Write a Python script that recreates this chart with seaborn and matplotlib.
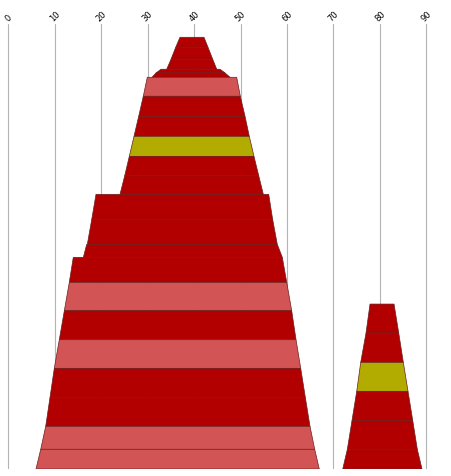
import matplotlib.pyplot as plt
import seaborn as sns

# big column, bands listed top to bottom
big_heights = [2.15, 2.58, 2.15, 0.80, 0.93, 4.09, 4.31, 4.31, 4.31, 4.18, 4.00,
               5.47, 5.30, 2.80, 5.38, 6.11, 6.24, 6.16, 6.24, 6.24, 4.95, 4.24]
big_left_top = [36.96, 36.04, 35.03, 32.87, 31.80, 29.92, 29.06, 28.07, 27.06, 26.05, 25.06,
                18.88, 17.95, 16.88, 13.99, 13.13, 12.06, 10.98, 9.90, 8.98, 8.05, 6.98]
big_left_bot = [36.04, 35.03, 34.10, 31.80, 30.94, 29.06, 28.07, 27.06, 26.05, 25.06, 24.05,
                17.95, 17.01, 16.15, 13.13, 12.06, 10.98, 9.90, 8.98, 8.05, 6.98, 5.96]
big_right_top = [42.13, 42.99, 44.00, 45.58, 46.66, 49.17, 49.95, 50.96, 51.88, 52.89, 53.91,
                 56.06, 56.92, 57.91, 58.99, 59.94, 61.01, 61.94, 62.95, 63.94, 64.95, 65.96]
big_right_bot = [42.99, 44.00, 44.87, 46.66, 47.73, 49.95, 50.96, 51.88, 52.89, 53.91, 54.90,
                 56.92, 57.91, 58.99, 59.94, 61.01, 61.94, 62.95, 63.94, 64.95, 65.96, 66.95]
big_kind = ["a", "a", "a", "a", "a", "b", "a", "a", "c", "a", "a",
            "a", "a", "a", "a", "b", "a", "b", "a", "a", "b", "b"]

# small column, bands listed top to bottom
small_heights = [6.24, 6.31, 6.24, 6.24, 6.24, 4.24]
small_left_top = [77.87, 77.01, 75.87, 75.01, 74.00, 72.99]
small_left_bot = [77.01, 75.87, 75.01, 74.00, 72.99, 72.00]
small_right_top = [83.04, 84.05, 85.04, 86.05, 87.06, 88.05]
small_right_bot = [84.05, 85.04, 86.05, 87.06, 88.05, 89.06]
small_kind = ["a", "a", "c", "a", "a", "a"]

palette = {"a": "#b20000", "b": "#d35454", "c": "#b3ac00"}

sns.set_theme(style="whitegrid")
fig = plt.figure(figsize=(4.52, 4.77), dpi=100)
ax = fig.add_axes([0, 7 / 477, 1, 445 / 477])


def draw_column(heights, lt, lb, rt, rb, kinds):
    top = sum(heights)
    for h, a, b, c, d, k in zip(heights, lt, lb, rt, rb, kinds):
        bot = top - h
        ax.fill([a, c, d, b], [top, top, bot, bot], facecolor=palette[k],
                edgecolor="#6a2020", linewidth=0.5, zorder=3)
        top = bot


draw_column(big_heights, big_left_top, big_left_bot, big_right_top, big_right_bot, big_kind)
draw_column(small_heights, small_left_top, small_left_bot, small_right_top, small_right_bot, small_kind)

ax.set_xlim(-1.79, 95.52)
ax.set_ylim(0, 95.8)
ax.set_xticks(range(0, 91, 10))
ax.set_yticks([])
ax.xaxis.tick_top()
ax.tick_params(axis="x", length=0, pad=1, labelsize=6, labelcolor="black")
for lab in ax.get_xticklabels():
    lab.set_rotation(45)
ax.grid(axis="x", color="#b4b4b4", linewidth=0.8)
ax.grid(axis="y", visible=False)
for s in ax.spines.values():
    s.set_visible(False)
ax.set_facecolor("white")

fig.savefig("out.png", dpi=100)
